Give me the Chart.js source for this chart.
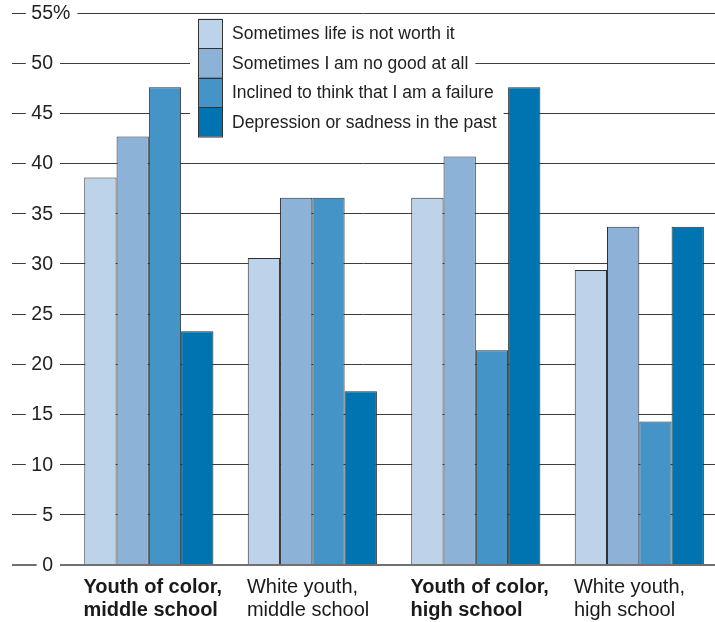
<!DOCTYPE html>
<html>
<head>
<meta charset="utf-8">
<script src="https://cdn.jsdelivr.net/npm/chart.js@4.4.1/dist/chart.umd.min.js"></script>
<style>
    body { margin: 0; background: #ffffff; }
    #wrap { position: relative; width: 715px; height: 622px; }
</style>
</head>
<body>
<div id="wrap"><canvas id="graphCanvas"></canvas></div>
<script>
const groupLabels = [
    ['Youth of color,', 'middle school'],
    ['White youth,', 'middle school'],
    ['Youth of color,', 'high school'],
    ['White youth,', 'high school']
];
const groupBold = [true, false, true, false];

const seriesNames = [
    'Sometimes life is not worth it',
    'Sometimes I am no good at all',
    'Inclined to think that I am a failure',
    'Depression or sadness in the past'
];
const lifeNotWorthIt = [38.6, 30.6, 36.6, 29.4];
const noGoodAtAll = [42.7, 36.6, 40.7, 33.7];
const aFailure = [47.6, 36.6, 21.4, 14.3];
const depressionSadness = [23.3, 17.3, 47.6, 33.7];
const seriesColors = ['#bdd3ea', '#8cb2d7', '#4594c7', '#0073b1'];

const yMin = 0;
const yMax = 55;
const yStep = 5;

const fontFamily = '"Liberation Sans", Arial, Helvetica, sans-serif';

let graphCanvas = null;

// y labels sit on the grid lines, with a white gap around them
const yLabelPlugin = {
    id: 'yLabels',
    afterDatasetsDraw(chart) {
        const ctx = chart.ctx;
        const scale = chart.scales.y;
        ctx.save();
        ctx.font = '19.5px ' + fontFamily;
        ctx.textBaseline = 'middle';
        ctx.textAlign = 'left';
        scale.ticks.forEach(tick => {
            const y = scale.getPixelForValue(tick.value);
            const num = String(tick.value);
            const text = tick.value === yMax ? num + '%' : num;
            const x = 53 - ctx.measureText(num).width;
            const w = ctx.measureText(text).width;
            ctx.fillStyle = '#ffffff';
            ctx.fillRect(x - 5.5, y - 3, w + 12.5, 6);
            ctx.fillStyle = '#222222';
            ctx.fillText(text, x, y + 0.5);
        });
        ctx.restore();
    }
};

const boxLegendPlugin = {
    id: 'boxLegend',
    afterDatasetsDraw(chart) {
        const ctx = chart.ctx;
        const left = 198, top = 18.5, row = 29.5, swatch = 24, textX = 232;
        ctx.save();
        ctx.font = '17.5px ' + fontFamily;
        ctx.textBaseline = 'middle';
        chart.data.datasets.forEach((ds, i) => {
            const y = top + i * row;
            const w = ctx.measureText(ds.label).width;
            ctx.fillStyle = '#ffffff';
            ctx.fillRect(left - 8, y, textX - left + 8 + w + 7, row);
        });
        chart.data.datasets.forEach((ds, i) => {
            const y = top + i * row;
            ctx.fillStyle = ds.backgroundColor;
            ctx.fillRect(left, y, swatch, row);
            ctx.strokeStyle = '#333333';
            ctx.lineWidth = 1;
            ctx.strokeRect(left + 0.5, Math.round(y) + 0.5, swatch, row);
            ctx.fillStyle = '#222222';
            ctx.fillText(ds.label, textX, y + row / 2 + 1);
        });
        ctx.restore();
    }
};

function create_Datasets() {
    const values = [lifeNotWorthIt, noGoodAtAll, aFailure, depressionSadness];
    return values.map((series, i) => ({
        label: seriesNames[i],
        data: series.map((v, j) => ({ x: j, y: v })),
        backgroundColor: seriesColors[i],
        borderColor: '#2e2e2e',
        borderWidth: 1,
        borderSkipped: 'start',
        categoryPercentage: 0.79,
        barPercentage: 1.0
    }));
}

function create_Graph() {
    if (graphCanvas !== null) {
        graphCanvas.destroy();
    }

    const context = document.getElementById('graphCanvas').getContext('2d');
    graphCanvas = new Chart(context, {
        type: 'bar',
        data: {
            datasets: create_Datasets()
        },
        options: {
            responsive: true,
            maintainAspectRatio: false,
            animation: false,
            devicePixelRatio: 1,
            layout: {
                padding: { left: 12, right: 0, top: 13, bottom: 1.5 }
            },
            scales: {
                x: {
                    type: 'linear',
                    offset: false,
                    min: -0.837,
                    max: 3.463,
                    grid: { display: false, drawTicks: false, offset: false },
                    border: { display: false },
                    afterBuildTicks: (scale) => {
                        scale.ticks = groupLabels.map((l, i) => ({ value: i - 0.4 }));
                    },
                    afterFit: (scale) => {
                        scale.height = 55.5;
                    },
                    ticks: {
                        align: 'start',
                        padding: 10.5,
                        autoSkip: false,
                        maxRotation: 0,
                        color: '#1a1a1a',
                        font: (ctx) => ({
                            family: fontFamily,
                            size: 20,
                            weight: groupBold[ctx.index] ? 'bold' : 'normal',
                            lineHeight: 1.15
                        }),
                        callback: (value, index) => groupLabels[index]
                    }
                },
                y: {
                    min: yMin,
                    max: yMax,
                    grid: {
                        drawTicks: false,
                        color: (ctx) => ctx.tick.value === 0 ? '#707070' : '#3d3d3d',
                        lineWidth: (ctx) => ctx.tick.value === 0 ? 2 : 1
                    },
                    border: { display: false },
                    ticks: {
                        stepSize: yStep,
                        display: false
                    }
                }
            },
            plugins: {
                legend: { display: false },
                tooltip: { enabled: false }
            }
        },
        plugins: [yLabelPlugin, boxLegendPlugin]
    });
}

window.onload = create_Graph;
</script>
</body>
</html>
